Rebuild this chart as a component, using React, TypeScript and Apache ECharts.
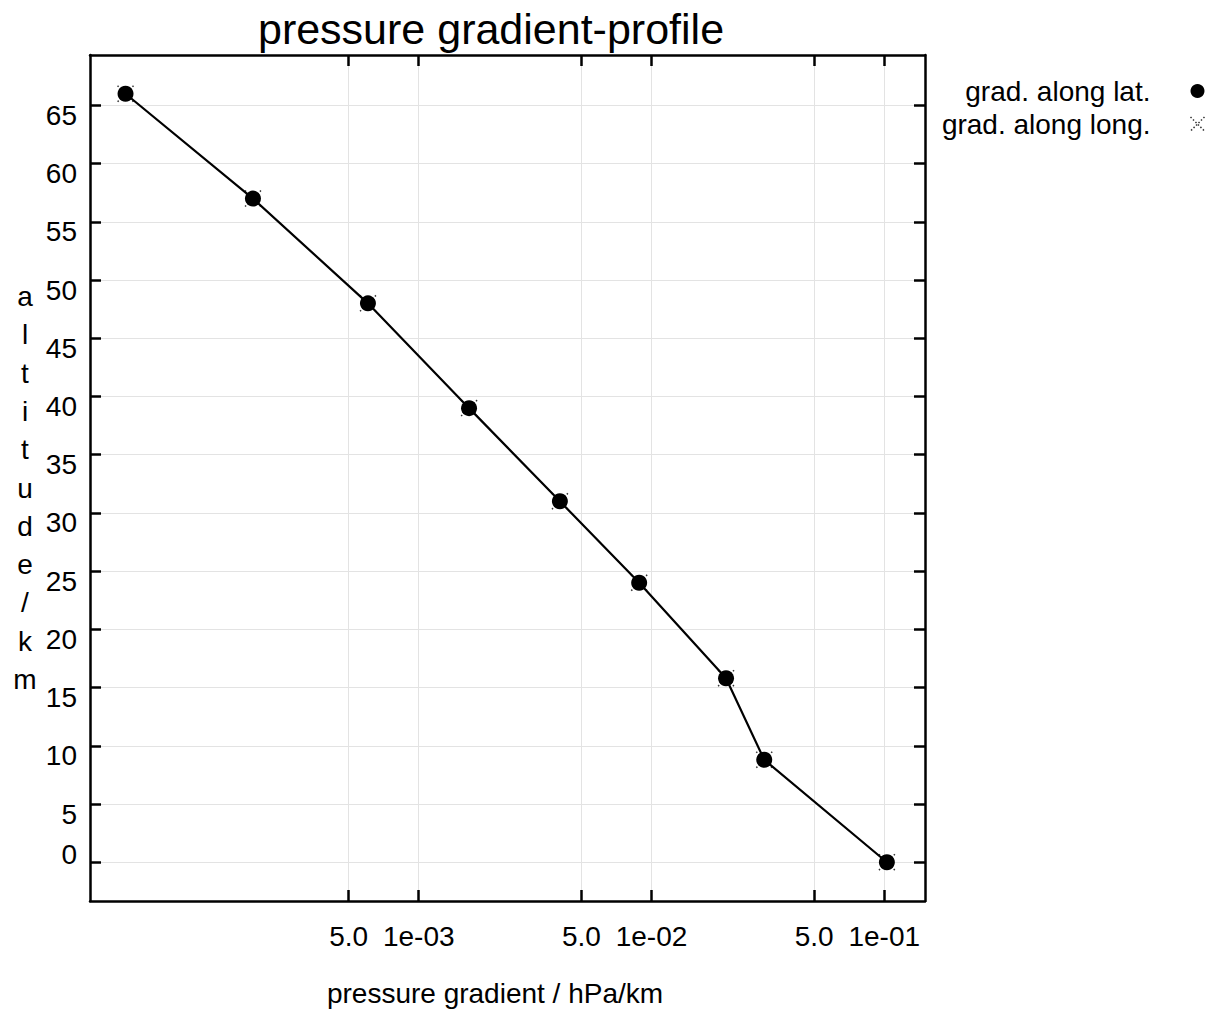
import React, { useEffect, useRef } from "react";
import * as echarts from "echarts";

// ---- data ----
const altitudes = [66, 57, 48, 39, 31, 24, 15.8, 8.8, 0];
const gradLat = [5.5e-5, 1.94e-4, 6.05e-4, 1.645e-3, 4.04e-3, 8.85e-3, 2.09e-2, 3.05e-2, 1.026e-1];
const gradLong = [5.5e-5, 1.94e-4, 6.05e-4, 1.645e-3, 4.04e-3, 8.85e-3, 2.09e-2, 3.05e-2, 1.026e-1];
const xTickValues = [5e-4, 1e-3, 5e-3, 1e-2, 5e-2, 1e-1];
const xTickLabels = ["5.0", "1e-03", "5.0", "1e-02", "5.0", "1e-01"];
const yTickValues = [0, 5, 10, 15, 20, 25, 30, 35, 40, 45, 50, 55, 60, 65];
const xRange = [3.87e-5, 0.1496];
const yRange = [-3.33, 69.33];
const seriesNames = ["grad. along lat.", "grad. along long."];
const titleText = "pressure gradient-profile";
const xTitle = "pressure gradient / hPa/km";
const yTitle = "altitude/km";

const FONT = "'Liberation Sans', Arial, Helvetica, sans-serif";
const crossPath = "path://M0,0L10,10M10,0L0,10";

export default function App() {
  const ref = useRef<HTMLDivElement>(null);
  useEffect(() => {
    if (!ref.current) return;
    const chart = echarts.init(ref.current, undefined, { renderer: "svg" });
    const lg = (v: number) => Math.log10(v);
    const xTicksLog = xTickValues.map(lg);
    const xMin = lg(xRange[0]);
    const xMax = lg(xRange[1]);

    const axisLine = { show: true, onZero: false, lineStyle: { color: "#000", width: 2.5 } };
    const tickStyle = { color: "#000", width: 2.5 };
    const crossStyle = { color: "none", borderColor: "#000", borderWidth: 1.5, borderType: [1.5, 2] };

    const option: any = {
      animation: false,
      backgroundColor: "#fff",
      title: {
        text: titleText,
        left: 486,
        top: 2,
        textAlign: "center",
        textStyle: { fontFamily: FONT, fontSize: 43, fontWeight: "normal", color: "#000" },
      },
      legend: {
        orient: "vertical",
        right: 2,
        top: 72,
        align: "right",
        itemWidth: 14,
        itemHeight: 14,
        itemGap: 5,
        selectedMode: false,
        textStyle: { fontFamily: FONT, fontSize: 28, color: "#000", padding: [0, 35, 0, 0] },
        data: [
          { name: seriesNames[0], icon: "circle", itemStyle: { color: "#000" } },
          { name: seriesNames[1], icon: crossPath, itemStyle: crossStyle },
        ],
      },
      grid: { left: 90, right: 289, top: 55, bottom: 109, containLabel: false, outerBoundsMode: "none" },
      xAxis: [
        {
          type: "value",
          position: "bottom",
          min: xMin,
          max: xMax,
          axisLine,
          axisTick: { show: true, inside: true, length: 11, lineStyle: tickStyle, customValues: xTicksLog },
          axisLabel: {
            customValues: xTicksLog,
            hideOverlap: false,
            margin: 21,
            fontFamily: FONT,
            fontSize: 28,
            color: "#000",
            formatter: (v: number) => {
              let best = 0;
              xTicksLog.forEach((t, i) => {
                if (Math.abs(t - v) < Math.abs(xTicksLog[best] - v)) best = i;
              });
              return xTickLabels[best];
            },
          },
          splitLine: { show: true, lineStyle: { color: "#e3e3e3", width: 1 } },
          name: xTitle,
          nameLocation: "middle",
          nameGap: 78,
          nameTextStyle: { fontFamily: FONT, fontSize: 28, color: "#000", padding: [0, 25, 0, 0] },
        },
        {
          type: "value",
          position: "top",
          min: xMin,
          max: xMax,
          axisLine,
          axisTick: { show: true, inside: true, length: 11, lineStyle: tickStyle, customValues: xTicksLog },
          axisLabel: { show: false },
          splitLine: { show: false },
        },
      ],
      yAxis: [
        {
          type: "value",
          position: "left",
          min: yRange[0],
          max: yRange[1],
          axisLine,
          axisTick: { show: true, inside: true, length: 11, lineStyle: tickStyle, customValues: yTickValues },
          axisLabel: {
            customValues: yTickValues,
            hideOverlap: false,
            margin: 13,
            formatter: (v: number) => (Math.abs(v) < 1e-9 ? `{z|0}` : `{n|${v}}`),
            rich: {
              n: { fontFamily: FONT, fontSize: 28, color: "#000", padding: [20, 0, 0, 0] },
              z: { fontFamily: FONT, fontSize: 28, color: "#000", padding: [0, 0, 16, 0] },
            },
          },
          splitLine: { show: true, lineStyle: { color: "#e3e3e3", width: 1 } },
        },
        {
          type: "value",
          position: "right",
          min: yRange[0],
          max: yRange[1],
          axisLine,
          axisTick: { show: true, inside: true, length: 11, lineStyle: tickStyle, customValues: yTickValues },
          axisLabel: { show: false },
          splitLine: { show: false },
        },
      ],
      graphic: [
        {
          type: "text",
          x: 25,
          y: 488,
          style: {
            text: yTitle.split("").join("\n"),
            fontFamily: FONT,
            fontSize: 28,
            lineHeight: 38.3,
            fill: "#000",
            align: "center",
            verticalAlign: "middle",
          },
        },
      ],
      series: [
        {
          name: seriesNames[1],
          type: "scatter",
          xAxisIndex: 0,
          yAxisIndex: 0,
          z: 2,
          symbol: crossPath,
          symbolSize: 16,
          itemStyle: crossStyle,
          data: gradLong.map((g, i) => [lg(g), altitudes[i]]),
        },
        {
          name: seriesNames[0],
          type: "line",
          xAxisIndex: 0,
          yAxisIndex: 0,
          z: 3,
          symbol: "circle",
          symbolSize: 16,
          showAllSymbol: true,
          itemStyle: { color: "#000" },
          lineStyle: { color: "#000", width: 2.2 },
          data: gradLat.map((g, i) => [lg(g), altitudes[i]]),
        },
      ],
    };
    chart.setOption(option);
    return () => chart.dispose();
  }, []);
  return <div ref={ref} style={{ width: 1214, height: 1010, position: "absolute", left: 0, top: 0 }} />;
}
